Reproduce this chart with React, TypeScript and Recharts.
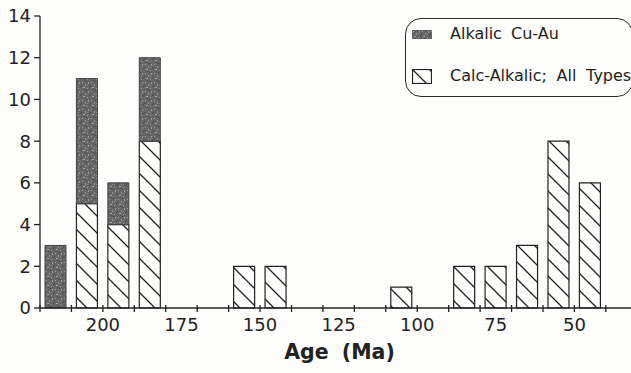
import React from 'react';
import { BarChart, Bar, XAxis, YAxis, Legend } from 'recharts';

// Age bins (10 Ma wide, value = bin centre in Ma)
const binAges = [215, 205, 195, 185, 155, 145, 105, 85, 75, 65, 55, 45];
const calcAlkalic = [0, 5, 4, 8, 2, 2, 1, 2, 2, 3, 8, 6];
const alkalicCuAu = [3, 6, 2, 4, 0, 0, 0, 0, 0, 0, 0, 0];
const binTicks = [220, 210, 200, 190, 180, 170, 160, 150, 140, 130, 120, 110, 100, 90, 80, 70, 60, 50, 40];
const ageLabels = [200, 175, 150, 125, 100, 75, 50];
const countTicks = [0, 2, 4, 6, 8, 10, 12, 14];
const seriesNames = ['Alkalic Cu-Au', 'Calc-Alkalic; All Types'];
const axisTitle = 'Age (Ma)';

const data = binAges.map((age, i) => ({ age, calc: calcAlkalic[i], alk: alkalicCuAu[i] }));

const FONT = '"DejaVu Sans", sans-serif';
const INK = '#222';

const TickMark = (props: any) => {
  const { x, y } = props;
  return <line x1={x} x2={x} y1={y - 3} y2={y + 4} stroke={INK} strokeWidth={1.3} />;
};

const AgeLabel = (props: any) => {
  const { x, y, payload } = props;
  return (
    <text x={x} y={y + 15} textAnchor="middle" fill={INK} fontSize={18} fontFamily={FONT}>
      {payload.value}
    </text>
  );
};

const AxisTitle = (props: any) => {
  const { viewBox } = props;
  return (
    <text
      x={viewBox.x + viewBox.width / 2 + 4}
      y={viewBox.y + 43}
      textAnchor="middle"
      fill={INK}
      fontSize={20.5}
      fontWeight="bold"
      fontFamily={FONT}
      style={{ wordSpacing: 6 }}
    >
      {axisTitle}
    </text>
  );
};

const LegendBox = () => (
  <div
    style={{
      width: 228,
      height: 79,
      boxSizing: 'border-box',
      border: '1.3px solid #2a2a2a',
      borderRadius: 16,
      position: 'relative',
      fontFamily: FONT,
      fontSize: 16,
      color: INK,
      whiteSpace: 'nowrap',
    }}
  >
    <svg width={20} height={9} style={{ position: 'absolute', left: 6, top: 11 }}>
      <rect x={0} y={0} width={20} height={9} fill="url(#stipple)" />
    </svg>
    <div style={{ position: 'absolute', left: 44, top: 5, wordSpacing: 4 }}>{seriesNames[0]}</div>
    <svg width={20} height={15} style={{ position: 'absolute', left: 6, top: 50 }}>
      <rect x={0.5} y={0.5} width={19} height={14} fill="url(#hatch)" stroke={INK} strokeWidth={1.2} />
    </svg>
    <div style={{ position: 'absolute', left: 44, top: 47, wordSpacing: 4.6 }}>{seriesNames[1]}</div>
  </div>
);

export default function App() {
  return (
    <div
      style={{
        position: 'absolute',
        left: 0,
        top: 0,
        width: 631,
        height: 373,
        overflow: 'hidden',
        background: '#fdfdfb',
      }}
    >
      <BarChart width={631} height={373} data={data} margin={{ top: 16, right: 0, left: 0, bottom: 0 }}>
        <defs>
          <pattern id="stipple" patternUnits="userSpaceOnUse" width={9} height={9}>
            <rect width={9} height={9} fill="#666" />
            <rect x={1} y={1} width={1} height={1} fill="#a0a0a0" />
            <rect x={4} y={3} width={1} height={2} fill="#8e8e8e" />
            <rect x={2} y={6} width={2} height={1} fill="#a8a8a8" />
            <rect x={7} y={1} width={1} height={2} fill="#999" />
            <rect x={6} y={7} width={1} height={1} fill="#9c9c9c" />
            <rect x={5} y={0} width={1} height={1} fill="#444" />
            <rect x={0} y={4} width={1} height={1} fill="#474747" />
            <rect x={3} y={8} width={1} height={1} fill="#4a4a4a" />
            <rect x={8} y={5} width={1} height={1} fill="#494949" />
            <rect x={6} y={4} width={1} height={1} fill="#858585" />
          </pattern>
          <pattern id="hatch" patternUnits="userSpaceOnUse" width={17} height={17}>
            <rect width={17} height={17} fill="#fdfdfb" />
            <path d="M-2,-2 L19,19 M-2,15 L2,19 M15,-2 L19,2" stroke={INK} strokeWidth={1.3} />
          </pattern>
        </defs>
        <YAxis
          type="number"
          domain={[0, 14]}
          ticks={countTicks}
          interval={0}
          width={40}
          tickSize={6}
          tickMargin={3}
          tick={{ fill: INK, fontSize: 18, fontFamily: FONT }}
          axisLine={{ stroke: INK, strokeWidth: 1.3 }}
          tickLine={{ stroke: INK, strokeWidth: 1.3 }}
        />
        <XAxis
          xAxisId="bins"
          dataKey="age"
          type="number"
          domain={[32, 220]}
          allowDataOverflow
          reversed
          ticks={binTicks}
          interval={0}
          height={8}
          tickSize={0}
          tickMargin={0}
          tickLine={false}
          tick={(p: any) => <TickMark {...p} />}
          axisLine={{ stroke: INK, strokeWidth: 1.3 }}
        />
        <XAxis
          xAxisId="labels"
          dataKey="age"
          type="number"
          domain={[32, 220]}
          allowDataOverflow
          reversed
          ticks={ageLabels}
          interval={0}
          height={57}
          tickSize={0}
          tickMargin={0}
          tickLine={false}
          axisLine={false}
          tick={(p: any) => <AgeLabel {...p} />}
          label={(p: any) => <AxisTitle {...p} />}
        />
        <Bar
          xAxisId="bins"
          dataKey="calc"
          stackId="a"
          barSize={21}
          fill="url(#hatch)"
          stroke={INK}
          strokeWidth={1.2}
          name={seriesNames[1]}
          isAnimationActive={false}
        />
        <Bar
          xAxisId="bins"
          dataKey="alk"
          stackId="a"
          barSize={21}
          fill="url(#stipple)"
          stroke="#444"
          strokeWidth={1}
          name={seriesNames[0]}
          isAnimationActive={false}
        />
        <Legend
          layout="vertical"
          align="center"
          verticalAlign="middle"
          content={() => <LegendBox />}
          wrapperStyle={{ position: 'absolute', left: 405, top: 18, width: 228, height: 79 }}
        />
      </BarChart>
    </div>
  );
}
